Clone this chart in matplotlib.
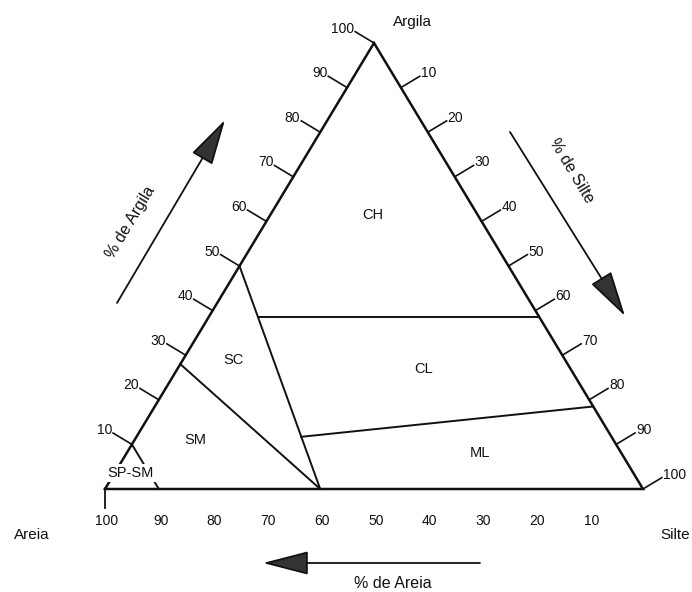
import matplotlib.pyplot as plt

plt.rcParams['font.family'] = ['Liberation Sans', 'DejaVu Sans']

# scale values along the three sides (%)
clay_ticks = [10, 20, 30, 40, 50, 60, 70, 80, 90, 100]
silt_ticks = [10, 20, 30, 40, 50, 60, 70, 80, 90, 100]
sand_ticks = [100, 90, 80, 70, 60, 50, 40, 30, 20, 10]

# class boundaries, end points given as (clay %, silt %)
ch_sc_clay, ch_sc_silt = [50, 0], [0, 40]
sc_sm_clay, sc_sm_silt = [28, 0], [0, 40]
ch_cl_clay, ch_cl_silt = [38.5, 38.5], [9.2, 61.5]
cl_ml_clay, cl_ml_silt = [11.7, 18.5], [30.6, 81.5]
spsm_clay, spsm_silt = [10, 0], [0, 10]

# class names and where they sit (clay %, silt %)
class_names = ['CH', 'SC', 'CL', 'SM', 'ML', 'SP-SM']
class_clay = [61.4, 28.9, 26.9, 11.0, 8.1, 3.6]
class_silt = [19.1, 9.4, 45.7, 11.2, 65.7, 3.0]

# canvas layout (pixels): sand corner and size of the triangle
X0, Y0, W, H = 105, 489, 538, 446
FIG_W, FIG_H = 692, 592


def tern(clay, silt):
    """clay/silt percentages -> cartesian (base = 1, height = 1)"""
    if isinstance(clay, list):
        xs = [s / 100 + c / 200 for c, s in zip(clay, silt)]
        ys = [c / 100 for c in clay]
        return xs, ys
    return silt / 100 + clay / 200, clay / 100


def px(x, y):
    """pixel position on the canvas -> data coordinates"""
    return (x - X0) / W, (Y0 - y) / H


def shift(pt, dx, dy):
    """move a data point by a pixel offset"""
    return pt[0] + dx / W, pt[1] - dy / H


fig = plt.figure(figsize=(FIG_W / 100, FIG_H / 100), dpi=100)
ax = fig.add_axes([0, 0, 1, 1])
ax.set_xlim(-X0 / W, (FIG_W - X0) / W)
ax.set_ylim((Y0 - FIG_H) / H, Y0 / H)
ax.axis('off')

ink = '#111111'

# outline
tx, ty = tern([0, 100, 0, 0], [0, 0, 100, 0])
ax.plot(tx, ty, color=ink, lw=1.8, solid_joinstyle='miter', zorder=2)

# class boundaries
for cl, si in [(ch_sc_clay, ch_sc_silt), (sc_sm_clay, sc_sm_silt),
               (ch_cl_clay, ch_cl_silt), (cl_ml_clay, cl_ml_silt),
               (spsm_clay, spsm_silt)]:
    bx, by = tern(cl, si)
    ax.plot(bx, by, color=ink, lw=1.4, zorder=2)

# side ticks: outward normals in pixels
tick_len = 22
nx, ny = 0.856 * tick_len, 0.516 * tick_len

for c in clay_ticks:
    p = tern(c, 0)
    q = shift(p, -nx, -ny)
    ax.plot([p[0], q[0]], [p[1], q[1]], color=ink, lw=1.2, zorder=2)
    ax.text(*shift(q, -1, 1), str(c), ha='right', va='baseline',
            fontsize=10, color=ink)

for s in silt_ticks:
    p = tern(100 - s, s)
    q = shift(p, nx, -ny)
    ax.plot([p[0], q[0]], [p[1], q[1]], color=ink, lw=1.2, zorder=2)
    ax.text(*shift(q, 1, 1), str(s), ha='left', va='baseline',
            fontsize=10, color=ink)

for a in sand_ticks:
    p = tern(0, 100 - a)
    ax.text(*shift(p, 2, 25), str(a), ha='center', va='top',
            fontsize=10, color=ink)

# short drop at the sand corner
p = tern(0, 0)
q = shift(p, 0, 19)
ax.plot([p[0], q[0]], [p[1], q[1]], color=ink, lw=1.3, zorder=2)

# class names
for name, c, s in zip(class_names, class_clay, class_silt):
    box = dict(fc='white', ec='none', pad=1.5) if name == 'SP-SM' else None
    ax.text(*tern(c, s), name, ha='center', va='center', fontsize=10.5,
            color=ink, bbox=box, zorder=3)

# corner names
ax.text(*px(412, 22), 'Argila', ha='center', va='center', fontsize=11, color=ink)
ax.text(*px(32, 535), 'Areia', ha='center', va='center', fontsize=11, color=ink)
ax.text(*px(690, 535), 'Silte', ha='right', va='center', fontsize=11, color=ink)

# direction arrows
arrow = dict(arrowstyle='-|>,head_length=2.9,head_width=0.75', lw=1.3,
             color=ink, fc='#333333', shrinkA=0, shrinkB=0, mutation_scale=10)
ax.annotate('', xy=px(225, 120), xytext=px(117, 303), arrowprops=arrow)
ax.annotate('', xy=px(625, 316), xytext=px(510, 132), arrowprops=arrow)
ax.annotate('', xy=px(263, 563), xytext=px(480, 563), arrowprops=arrow)

ax.text(*px(130, 222), '% de Argila', rotation=59, ha='center', va='center',
        fontsize=11.5, color=ink, rotation_mode='anchor')
ax.text(*px(572, 171), '% de Silte', rotation=-59, ha='center', va='center',
        fontsize=11.5, color=ink, rotation_mode='anchor')
ax.text(*px(393, 583), '% de Areia', ha='center', va='center',
        fontsize=11.5, color=ink)

fig.savefig('out.png', dpi=100)
